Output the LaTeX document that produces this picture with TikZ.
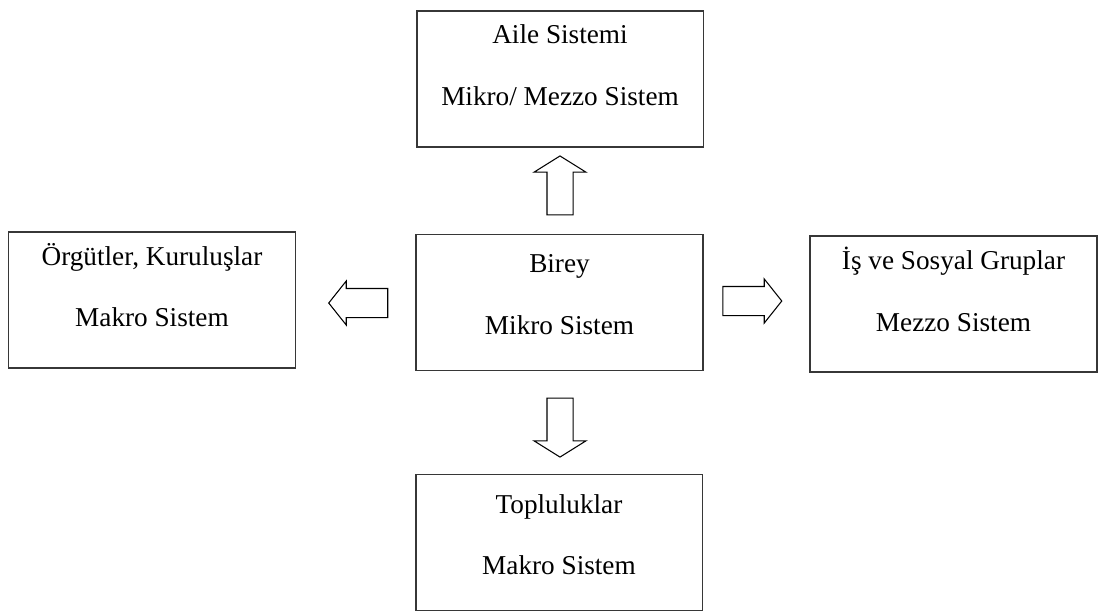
\documentclass[tikz,border=0pt]{standalone}
\usepackage{fontspec}
\setmainfont{Liberation Serif}
\usetikzlibrary{shapes.arrows, positioning}
\definecolor{boxgray}{RGB}{55,55,55}

\begin{document}
\begin{tikzpicture}[x=0.02cm, y=-0.02cm,
    sysbox/.style={draw=boxgray, line width=1.1pt, align=center, inner sep=0pt,
        minimum width=5.74cm, minimum height=2.72cm, text depth=#1,
        font=\fontsize{15.5}{35}\selectfont},
    sysbox/.default=9pt,
    vblock/.style={single arrow, draw=black, line width=0.6pt, inner sep=0pt,
        text height=0.5cm, text depth=0pt, minimum height=1.18cm,
        single arrow head extend=0.26cm, single arrow tip angle=116},
    hblock/.style={single arrow, draw=black, line width=0.6pt, inner sep=0pt,
        text height=0.56cm, text depth=0pt, minimum height=1.18cm,
        single arrow head extend=0.15cm, single arrow tip angle=103}]
\useasboundingbox (0,0) rectangle (1101,610);

% Systems
\node[sysbox=16pt] (aile) at (560,79) {Aile Sistemi\\Mikro/ Mezzo Sistem};
\node[sysbox] (birey) at (559.5,302.5) {Birey\\Mikro Sistem};
\node[sysbox=17pt] (orgut) at (152,300) {Örgütler, Kuruluşlar\\Makro Sistem};
\node[sysbox=17pt] (isgrup) at (953.5,304) {İş ve Sosyal Gruplar\\Mezzo Sistem};
\node[sysbox] (toplu) at (559,542.5) {Topluluklar\\Makro Sistem};

% Block arrows out of the individual
\node[vblock, rotate=90] (toaile) at (560,189.5) {};
\node[vblock, rotate=-90] (totoplu) at (560,423.5) {};
\node[hblock, rotate=180] (toorgut) at (364,303) {};
\node[hblock] (toisgrup) at (746.5,301) {};
\end{tikzpicture}
\end{document}
